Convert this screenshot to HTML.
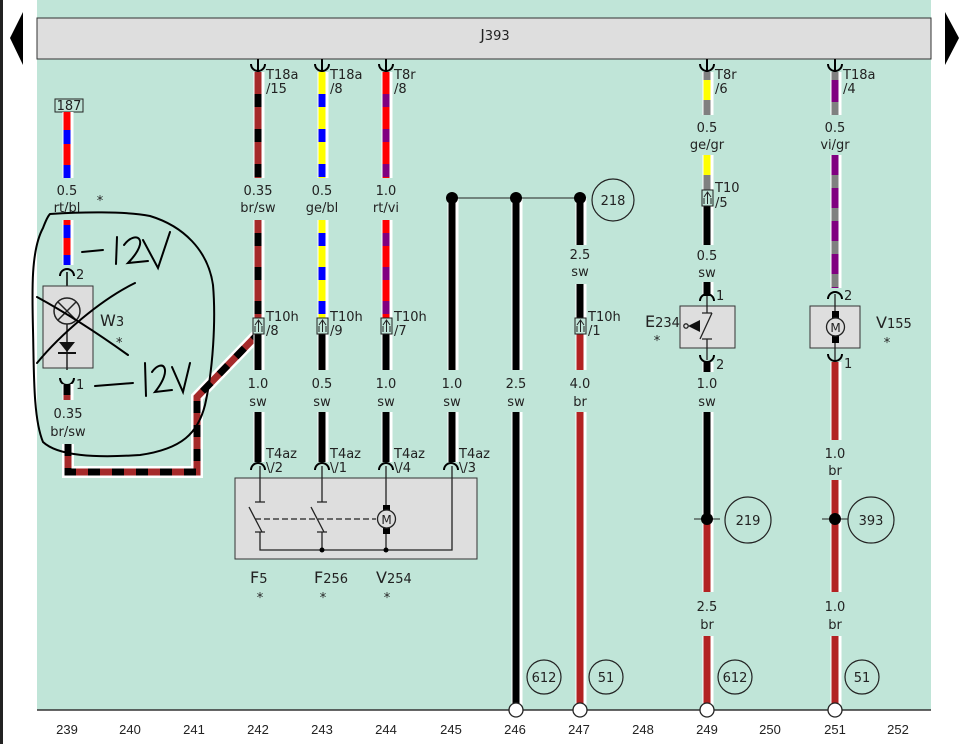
<!DOCTYPE html>
<html><head><meta charset="utf-8"><style>
body{margin:0;background:#fff;width:960px;height:744px;overflow:hidden}
svg{display:block}
text{font-family:"DejaVu Sans","Liberation Sans",sans-serif;font-size:13px;fill:#222}
.n{font-family:"Liberation Sans",sans-serif;font-size:13px;text-anchor:middle}
.c{text-anchor:middle}
</style></head><body>
<svg width="960" height="744" viewBox="0 0 960 744">
<rect x="0" y="0" width="960" height="744" fill="#fff"/>
<rect x="0" y="0" width="3" height="744" fill="#222"/>
<rect x="37" y="0" width="894" height="710" fill="#c0e5d8"/>
<rect x="37" y="18" width="894" height="41" fill="#dedede" stroke="#333" stroke-width="1"/>
<polygon points="23,12 23,65 10,38" fill="#000"/>
<polygon points="945,12 945,65 959,38" fill="#000"/>
<text x="495" y="40" class="c" style="font-size:15px">J<tspan style="font-size:13px">393</tspan></text>
<line x1="37" y1="710" x2="931" y2="710" stroke="#333" stroke-width="1.5"/>

<g id="wires">
<rect x="55" y="99" width="28" height="13" fill="none" stroke="#222"/>
<text x="69" y="110" class="c">187</text>
<line x1="68" y1="112" x2="68" y2="178" stroke="#fff" stroke-width="11"/>
<line x1="67" y1="112" x2="67" y2="178" stroke="#f00" stroke-width="7"/>
<line x1="67" y1="112" x2="67" y2="178" stroke="#00f" stroke-width="7" stroke-dasharray="0 18 14 3"/>
<line x1="68" y1="220" x2="68" y2="265" stroke="#fff" stroke-width="11"/>
<line x1="67" y1="220" x2="67" y2="265" stroke="#f00" stroke-width="7"/>
<line x1="67" y1="220" x2="67" y2="265" stroke="#00f" stroke-width="7" stroke-dasharray="0 5 13 12"/>
<text x="67" y="195" class="c">0.5</text><text x="67" y="212" class="c">rt/bl</text>
<text x="100" y="205" class="c">*</text>
<path d="M60,276 A7,7 0 0 1 74,276" fill="none" stroke="#000" stroke-width="2"/>
<line x1="67" y1="272" x2="67" y2="368" stroke="#000" stroke-width="1.5"/>
<text x="76" y="279">2</text>
<rect x="43" y="286" width="50" height="82" fill="#ddd" stroke="#333"/>
<circle cx="67" cy="311" r="13" fill="none" stroke="#222" stroke-width="1.5"/>
<line x1="58" y1="302" x2="76" y2="320" stroke="#222" stroke-width="1.5"/>
<line x1="76" y1="302" x2="58" y2="320" stroke="#222" stroke-width="1.5"/>
<line x1="67" y1="324" x2="67" y2="370" stroke="#222" stroke-width="1.5"/>
<polygon points="59,342 75,342 67,352" fill="#111"/>
<line x1="58" y1="353" x2="76" y2="353" stroke="#111" stroke-width="2"/>
<text x="100" y="326" style="font-size:16px">W<tspan style="font-size:13px">3</tspan></text>
<text x="116" y="347">*</text>
<path d="M60,378 A7,7 0 0 0 74,378" fill="none" stroke="#000" stroke-width="2"/>
<text x="76" y="389">1</text>
<line x1="68" y1="384" x2="68" y2="400" stroke="#fff" stroke-width="11"/>
<line x1="67" y1="384" x2="67" y2="400" stroke="#a52a2a" stroke-width="7"/>
<line x1="67" y1="384" x2="67" y2="400" stroke="#000" stroke-width="7" stroke-dasharray="11 40"/>
<text x="68" y="418" class="c">0.35</text><text x="68" y="436" class="c">br/sw</text>
<path d="M68,444 L68,472 L197,472 L197,397 L258,334" fill="none" stroke="#fff" stroke-width="12"/>
<path d="M68,444 L68,472 L197,472 L197,397 L258,334" fill="none" stroke="#a52a2a" stroke-width="7"/>
<path d="M68,444 L68,472 L197,472 L197,397 L258,334" fill="none" stroke="#000" stroke-width="7" stroke-dasharray="12 12"/>
</g>

<!-- hand drawing -->
<g fill="none" stroke="#000" stroke-width="2" stroke-linecap="round">
<path d="M50,214 C80,212 125,211 150,216 C183,226 208,250 213,285 C216,320 213,370 205,405 C198,433 182,449 140,455 C95,458 58,456 43,442 C33,418 34,370 33,330 C32,290 31,250 43,228 C46,220 48,216 50,214"/>
<path d="M37,297 C70,315 100,335 128,355"/>
<path d="M135,283 C100,300 60,335 37,363"/>
<path d="M82,252 L103,250"/><path d="M117,237 L116,264"/><path d="M124,245 C135,230 152,238 128,263 L148,261"/><path d="M143,240 L158,268 L170,232"/>
<path d="M95,386 L133,383"/><path d="M145,363 L146,396"/><path d="M152,372 C162,358 174,368 155,392 L172,390"/><path d="M172,367 L183,392 L190,363"/>
</g>

<g id="cols">
<g fill="none" stroke="#000" stroke-width="2">
<path d="M251,64 A7,7 0 0 0 265,64"/><line x1="258" y1="59" x2="258" y2="72"/>
<path d="M315,64 A7,7 0 0 0 329,64"/><line x1="322" y1="59" x2="322" y2="72"/>
<path d="M379,64 A7,7 0 0 0 393,64"/><line x1="386" y1="59" x2="386" y2="72"/>
<path d="M700,64 A7,7 0 0 0 714,64"/><line x1="707" y1="59" x2="707" y2="72"/>
<path d="M828,64 A7,7 0 0 0 842,64"/><line x1="835" y1="59" x2="835" y2="72"/>
</g>
<text x="266" y="79">T18a</text><text x="266" y="93">/15</text>
<text x="330" y="79">T18a</text><text x="330" y="93">/8</text>
<text x="394" y="79">T8r</text><text x="394" y="93">/8</text>
<text x="715" y="79">T8r</text><text x="715" y="93">/6</text>
<text x="843" y="79">T18a</text><text x="843" y="93">/4</text>

<g stroke="#fff" stroke-width="11">
<line x1="259" y1="72" x2="259" y2="178"/><line x1="259" y1="220" x2="259" y2="370"/><line x1="259" y1="412" x2="259" y2="462"/>
<line x1="323" y1="72" x2="323" y2="178"/><line x1="323" y1="220" x2="323" y2="370"/><line x1="323" y1="412" x2="323" y2="462"/>
<line x1="387" y1="72" x2="387" y2="178"/><line x1="387" y1="220" x2="387" y2="370"/><line x1="387" y1="412" x2="387" y2="462"/>
<line x1="453" y1="198" x2="453" y2="370"/><line x1="453" y1="412" x2="453" y2="462"/>
<line x1="517" y1="198" x2="517" y2="370"/><line x1="517" y1="412" x2="517" y2="705"/>
<line x1="581" y1="198" x2="581" y2="245"/><line x1="581" y1="284" x2="581" y2="370"/><line x1="581" y1="412" x2="581" y2="705"/>
<line x1="708" y1="72" x2="708" y2="115"/><line x1="708" y1="155" x2="708" y2="245"/><line x1="708" y1="282" x2="708" y2="296"/><line x1="708" y1="362" x2="708" y2="372"/><line x1="708" y1="412" x2="708" y2="592"/><line x1="708" y1="636" x2="708" y2="705"/>
<line x1="836" y1="72" x2="836" y2="115"/><line x1="836" y1="155" x2="836" y2="288"/><line x1="836" y1="362" x2="836" y2="440"/><line x1="836" y1="480" x2="836" y2="592"/><line x1="836" y1="636" x2="836" y2="705"/>
</g>
<g stroke-width="7">
<line x1="258" y1="72" x2="258" y2="178" stroke="#a52a2a"/><line x1="258" y1="72" x2="258" y2="178" stroke="#000" stroke-dasharray="0 22 13 0"/>
<line x1="258" y1="220" x2="258" y2="318" stroke="#a52a2a"/><line x1="258" y1="220" x2="258" y2="318" stroke="#000" stroke-dasharray="0 13 13 8"/>
<line x1="258" y1="334" x2="258" y2="370" stroke="#000"/><line x1="258" y1="412" x2="258" y2="462" stroke="#000"/>
<line x1="322" y1="72" x2="322" y2="178" stroke="#ff0"/><line x1="322" y1="72" x2="322" y2="178" stroke="#00f" stroke-dasharray="0 22 13 0"/>
<line x1="322" y1="220" x2="322" y2="318" stroke="#ff0"/><line x1="322" y1="220" x2="322" y2="318" stroke="#00f" stroke-dasharray="0 13 13 8"/>
<line x1="322" y1="334" x2="322" y2="370" stroke="#000"/><line x1="322" y1="412" x2="322" y2="462" stroke="#000"/>
<line x1="386" y1="72" x2="386" y2="178" stroke="#f00"/><line x1="386" y1="72" x2="386" y2="178" stroke="#800080" stroke-dasharray="0 22 13 0"/>
<line x1="386" y1="220" x2="386" y2="318" stroke="#f00"/><line x1="386" y1="220" x2="386" y2="318" stroke="#800080" stroke-dasharray="0 13 13 8"/>
<line x1="386" y1="334" x2="386" y2="370" stroke="#000"/><line x1="386" y1="412" x2="386" y2="462" stroke="#000"/>
<line x1="452" y1="198" x2="452" y2="370" stroke="#000"/><line x1="452" y1="412" x2="452" y2="462" stroke="#000"/>
<line x1="516" y1="198" x2="516" y2="370" stroke="#000"/><line x1="516" y1="412" x2="516" y2="705" stroke="#000"/>
<line x1="580" y1="198" x2="580" y2="245" stroke="#000"/><line x1="580" y1="284" x2="580" y2="318" stroke="#000"/>
<line x1="580" y1="334" x2="580" y2="370" stroke="#b22222"/><line x1="580" y1="412" x2="580" y2="705" stroke="#b22222"/>
<line x1="707" y1="72" x2="707" y2="115" stroke="#ff0"/><line x1="707" y1="72" x2="707" y2="115" stroke="#808080" stroke-dasharray="8 20 14 0"/>
<line x1="707" y1="155" x2="707" y2="192" stroke="#ff0"/><line x1="707" y1="175" x2="707" y2="192" stroke="#808080"/>
<line x1="707" y1="206" x2="707" y2="245" stroke="#000"/><line x1="707" y1="282" x2="707" y2="296" stroke="#000"/>
<line x1="707" y1="362" x2="707" y2="372" stroke="#000"/><line x1="707" y1="412" x2="707" y2="519" stroke="#000"/>
<line x1="707" y1="519" x2="707" y2="592" stroke="#b22222"/><line x1="707" y1="636" x2="707" y2="705" stroke="#b22222"/>
<line x1="835" y1="72" x2="835" y2="115" stroke="#800080"/><line x1="835" y1="72" x2="835" y2="115" stroke="#808080" stroke-dasharray="8 22 14 0"/>
<line x1="835" y1="155" x2="835" y2="288" stroke="#800080"/><line x1="835" y1="155" x2="835" y2="288" stroke="#808080" stroke-dasharray="0 20 13 0"/>
<line x1="835" y1="362" x2="835" y2="440" stroke="#b22222"/><line x1="835" y1="480" x2="835" y2="592" stroke="#b22222"/><line x1="835" y1="636" x2="835" y2="705" stroke="#b22222"/>
</g>

<g>
<text x="258" y="195" class="c">0.35</text><text x="258" y="212" class="c">br/sw</text>
<text x="322" y="195" class="c">0.5</text><text x="322" y="212" class="c">ge/bl</text>
<text x="386" y="195" class="c">1.0</text><text x="386" y="212" class="c">rt/vi</text>
<text x="258" y="388" class="c">1.0</text><text x="258" y="406" class="c">sw</text>
<text x="322" y="388" class="c">0.5</text><text x="322" y="406" class="c">sw</text>
<text x="386" y="388" class="c">1.0</text><text x="386" y="406" class="c">sw</text>
<text x="452" y="388" class="c">1.0</text><text x="452" y="406" class="c">sw</text>
<text x="516" y="388" class="c">2.5</text><text x="516" y="406" class="c">sw</text>
<text x="580" y="388" class="c">4.0</text><text x="580" y="406" class="c">br</text>
<text x="580" y="259" class="c">2.5</text><text x="580" y="276" class="c">sw</text>
<text x="707" y="132" class="c">0.5</text><text x="707" y="149" class="c">ge/gr</text>
<text x="835" y="132" class="c">0.5</text><text x="835" y="149" class="c">vi/gr</text>
<text x="707" y="260" class="c">0.5</text><text x="707" y="277" class="c">sw</text>
<text x="707" y="388" class="c">1.0</text><text x="707" y="406" class="c">sw</text>
<text x="835" y="458" class="c">1.0</text><text x="835" y="475" class="c">br</text>
<text x="707" y="611" class="c">2.5</text><text x="707" y="629" class="c">br</text>
<text x="835" y="611" class="c">1.0</text><text x="835" y="629" class="c">br</text>
</g>

<g fill="none" stroke="#222" stroke-width="1">
<rect x="253" y="318" width="11" height="16" fill="#c0e5d8"/><path d="M258.5,332 V321 M255,325 L258.5,320 L262,325 M255,332 V326 M262,332 V326"/>
<rect x="317" y="318" width="11" height="16" fill="#c0e5d8"/><path d="M322.5,332 V321 M319,325 L322.5,320 L326,325 M319,332 V326 M326,332 V326"/>
<rect x="381" y="318" width="11" height="16" fill="#c0e5d8"/><path d="M386.5,332 V321 M383,325 L386.5,320 L390,325 M383,332 V326 M390,332 V326"/>
<rect x="575" y="318" width="11" height="16" fill="#c0e5d8"/><path d="M580.5,332 V321 M577,325 L580.5,320 L584,325 M577,332 V326 M584,332 V326"/>
<rect x="702" y="190" width="11" height="16" fill="#c0e5d8"/><path d="M707.5,204 V193 M704,197 L707.5,192 L711,197 M704,204 V198 M711,204 V198"/>
</g>
<text x="266" y="321">T10h</text><text x="266" y="335">/8</text>
<text x="330" y="321">T10h</text><text x="330" y="335">/9</text>
<text x="394" y="321">T10h</text><text x="394" y="335">/7</text>
<text x="588" y="321">T10h</text><text x="588" y="335">/1</text>
<text x="715" y="192">T10</text><text x="715" y="207">/5</text>

<line x1="452" y1="198" x2="580" y2="198" stroke="#222" stroke-width="1"/>
<circle cx="452" cy="198" r="6" fill="#000"/><circle cx="516" cy="198" r="6" fill="#000"/><circle cx="580" cy="198" r="6" fill="#000"/>
<circle cx="613" cy="200" r="21" fill="none" stroke="#222" stroke-width="1.2"/><text x="613" y="205" class="c">218</text>

<g fill="none" stroke="#000" stroke-width="2">
<path d="M251,470 A7,7 0 0 1 265,470"/><path d="M315,470 A7,7 0 0 1 329,470"/><path d="M379,470 A7,7 0 0 1 393,470"/><path d="M444,470 A7,7 0 0 1 458,470"/>
</g>
<text x="266" y="458">T4az</text><text x="266" y="472">\/2</text>
<text x="330" y="458">T4az</text><text x="330" y="472">\/1</text>
<text x="394" y="458">T4az</text><text x="394" y="472">\/4</text>
<text x="459" y="458">T4az</text><text x="459" y="472">\/3</text>
<rect x="235" y="478" width="242" height="81" fill="#dedede" stroke="#333"/>
<g stroke="#222" stroke-width="1.3" fill="none">
<path d="M260,466 V502 M255,502 H265 M249,507 L262,532 M255,532 H265 M260,532 V550 H452 V466"/>
<path d="M322,466 V502 M317,502 H327 M311,507 L324,532 M317,532 H327 M322,532 V550"/>
<path d="M255,519 H376" stroke-dasharray="6 3"/>
<path d="M386,466 V550"/>
</g>
<rect x="383" y="505" width="7" height="8" fill="#000"/><rect x="383" y="526" width="7" height="8" fill="#000"/>
<circle cx="386.5" cy="519" r="9" fill="#dedede" stroke="#222" stroke-width="1.3"/>
<text x="386.5" y="524" class="c" style="font-size:12px">M</text>
<circle cx="322" cy="550" r="2.5" fill="#000"/><circle cx="386" cy="550" r="2.5" fill="#000"/>
<text x="250" y="583" style="font-size:16px">F<tspan style="font-size:13px">5</tspan></text>
<text x="314" y="583" style="font-size:16px">F<tspan style="font-size:13px">256</tspan></text>
<text x="376" y="583" style="font-size:16px">V<tspan style="font-size:13px">254</tspan></text>
<text x="260" y="602" class="c">*</text><text x="323" y="602" class="c">*</text><text x="387" y="602" class="c">*</text>

<g fill="none" stroke="#000" stroke-width="2">
<path d="M700,301 A7,7 0 0 1 714,301"/><path d="M700,355 A7,7 0 0 0 714,355"/>
<path d="M828,299 A7,7 0 0 1 842,299"/><path d="M828,354 A7,7 0 0 0 842,354"/>
</g>
<text x="716" y="300">1</text><text x="716" y="369">2</text>
<text x="844" y="300">2</text><text x="844" y="368">1</text>
<rect x="680" y="306" width="55" height="42" fill="#dedede" stroke="#333"/>
<g stroke="#222" stroke-width="1.3" fill="none">
<path d="M707,296 V313 M702,313 H712 M712,313 L700,339 M702,339 H712 M707,339 V360"/>
<circle cx="686" cy="326" r="2.2"/>
</g>
<polygon points="688,326 700,320 700,332" fill="#111"/>
<text x="645" y="327" style="font-size:16px">E<tspan style="font-size:13px">234</tspan></text>
<text x="657" y="345" class="c">*</text>
<rect x="810" y="306" width="50" height="42" fill="#dedede" stroke="#333"/>
<line x1="835" y1="294" x2="835" y2="360" stroke="#222" stroke-width="1.3"/>
<rect x="832" y="311" width="7" height="7" fill="#000"/><rect x="832" y="336" width="7" height="7" fill="#000"/>
<circle cx="835.5" cy="327" r="9" fill="#dedede" stroke="#222" stroke-width="1.3"/>
<text x="835.5" y="332" class="c" style="font-size:12px">M</text>
<text x="876" y="328" style="font-size:16px">V<tspan style="font-size:13px">155</tspan></text>
<text x="887" y="347" class="c">*</text>

<line x1="694" y1="519" x2="720" y2="519" stroke="#222"/><circle cx="707" cy="519" r="6" fill="#000"/>
<circle cx="748" cy="520" r="23" fill="none" stroke="#222" stroke-width="1.2"/><text x="748" y="525" class="c">219</text>
<line x1="822" y1="519" x2="848" y2="519" stroke="#222"/><circle cx="835" cy="519" r="6" fill="#000"/>
<circle cx="871" cy="520" r="23" fill="none" stroke="#222" stroke-width="1.2"/><text x="871" y="525" class="c">393</text>
<circle cx="544" cy="677" r="17" fill="none" stroke="#222" stroke-width="1.2"/><text x="544" y="682" class="c">612</text>
<circle cx="606" cy="677" r="17" fill="none" stroke="#222" stroke-width="1.2"/><text x="606" y="682" class="c">51</text>
<circle cx="735" cy="677" r="17" fill="none" stroke="#222" stroke-width="1.2"/><text x="735" y="682" class="c">612</text>
<circle cx="862" cy="677" r="17" fill="none" stroke="#222" stroke-width="1.2"/><text x="862" y="682" class="c">51</text>
<g fill="#fff" stroke="#222" stroke-width="1.3">
<circle cx="516" cy="710" r="7"/><circle cx="580" cy="710" r="7"/><circle cx="707" cy="710" r="7"/><circle cx="835" cy="710" r="7"/>
</g>
</g>

<g>
<text x="67" y="734" class="n">239</text><text x="130" y="734" class="n">240</text><text x="194" y="734" class="n">241</text><text x="258" y="734" class="n">242</text><text x="322" y="734" class="n">243</text><text x="386" y="734" class="n">244</text><text x="451" y="734" class="n">245</text><text x="515" y="734" class="n">246</text><text x="579" y="734" class="n">247</text><text x="643" y="734" class="n">248</text><text x="707" y="734" class="n">249</text><text x="770" y="734" class="n">250</text><text x="835" y="734" class="n">251</text><text x="898" y="734" class="n">252</text>
</g>
</svg>
</body></html>
